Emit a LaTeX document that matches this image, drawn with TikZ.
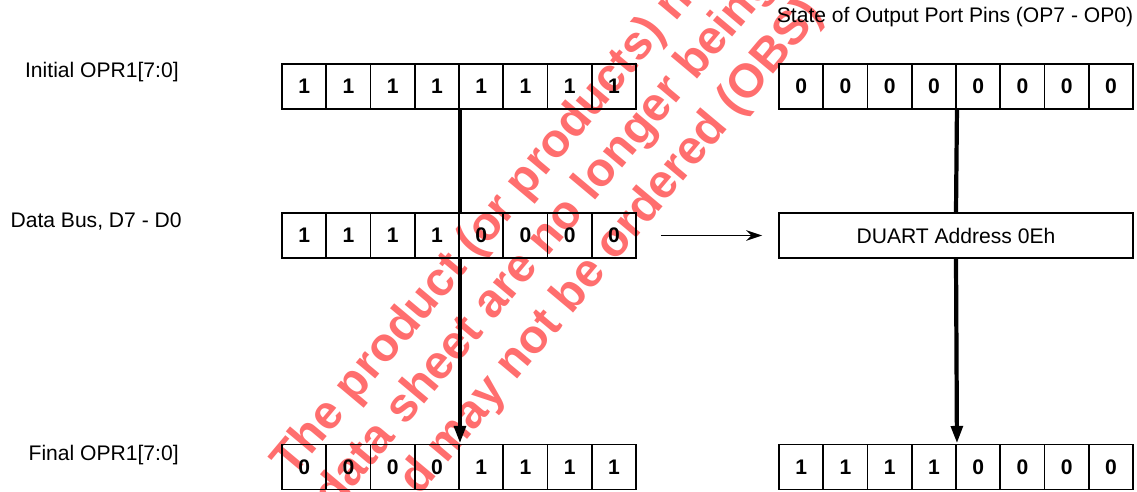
\documentclass[tikz,border=0pt]{standalone}
\usepackage{fontspec}
\setmainfont{Liberation Sans}
\usetikzlibrary{arrows.meta, positioning}
\definecolor{wmred}{HTML}{FF6E6E}

\begin{document}
\begin{tikzpicture}[x=0.02cm, y=-0.02cm,
    bit/.style={draw, line width=1.1pt, minimum width=0.885cm, minimum height=0.9cm,
                inner sep=0pt, font=\fontsize{12}{14}\selectfont\bfseries},
    tag/.style={font=\fontsize{12}{14}\selectfont, inner sep=0pt},
    regbox/.style={draw, line width=1.1pt, minimum width=7.08cm, minimum height=0.9cm,
                   inner sep=0pt, font=\fontsize{12}{14}\selectfont},
    bus/.style={line width=2.4pt},
    busarrow/.style={line width=2.4pt, -{Triangle[length=10pt, width=6.5pt]}},
    thinarrow/.style={line width=1.1pt, -{Stealth[length=9pt, width=6pt]}},
    wm/.style={text=wmred, font=\fontsize{27}{32}\selectfont\bfseries, inner sep=0pt,
               rotate=50, anchor=base west}
  ]
  \useasboundingbox (0,0) rectangle (1137,491);

  % watermark, behind everything
  \begin{scope}
    \clip (0,0) rectangle (1137,491);
    \node[wm] (wm1) at (292,479) {The product (or products) named in this};
    \node[wm] (wm2) at (334,512) {data sheet are no longer being};
    \node[wm] (wm3) at (419,497) {d may not be ordered (OBS)};
  \end{scope}

  % row labels
  \node[tag, anchor=east] (lini) at (179,72) {Initial OPR1[7:0]};
  \node[tag, anchor=east] (lbus) at (182,221) {Data Bus, D7 - D0};
  \node[tag, anchor=east] (lfin) at (179,455) {Final OPR1[7:0]};
  \node[tag] (title) at (955,17) {State of Output Port Pins (OP7 - OP0)};

  % registers
  \foreach \b [count=\i] in {1,1,1,1,1,1,1,1}
    \node[bit] (ini\i) at (259.875+44.25*\i, 86.5) {\b};
  \foreach \b [count=\i] in {1,1,1,1,0,0,0,0}
    \node[bit] (dbus\i) at (259.875+44.25*\i, 235.5) {\b};
  \foreach \b [count=\i] in {0,0,0,0,1,1,1,1}
    \node[bit] (fin\i) at (259.875+44.25*\i, 467) {\b};
  \foreach \b [count=\i] in {0,0,0,0,0,0,0,0}
    \node[bit] (pin\i) at (756.875+44.25*\i, 86.5) {\b};
  \foreach \b [count=\i] in {1,1,1,1,0,0,0,0}
    \node[bit] (out\i) at (756.875+44.25*\i, 467) {\b};

  \node[regbox] (duart) at (956,235.5) {DUART Address 0Eh};

  % connections
  \draw[bus] (ini4.south east) -- (dbus4.north east);
  \draw[busarrow] (dbus4.south east) -- (fin4.north east);
  \draw[bus] (pin4.south east) -- (duart.north);
  \draw[busarrow] (duart.south) -- (out4.north east);
  \draw[thinarrow] ([xshift=0.48cm]dbus8.east) -- ([xshift=-0.32cm]duart.west);
\end{tikzpicture}
\end{document}
